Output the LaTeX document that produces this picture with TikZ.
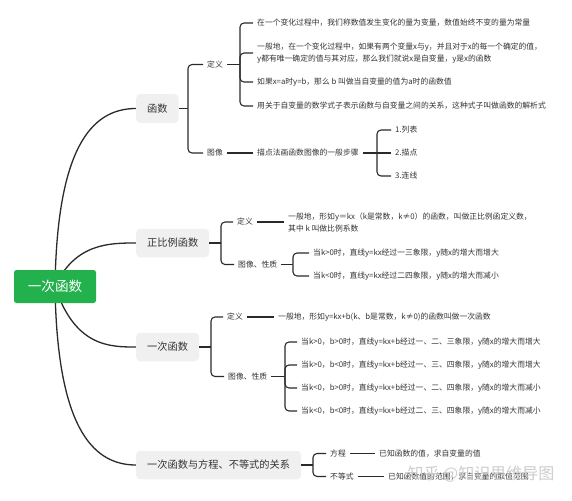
\documentclass[tikz,border=0pt]{standalone}
\usepackage{fontspec}
\setmainfont{Noto Sans CJK SC}
\usetikzlibrary{backgrounds}
\definecolor{mmgreen}{HTML}{22B14C}
\definecolor{mmtext}{HTML}{333333}
\definecolor{mmline}{HTML}{2A2A2A}
\colorlet{topicfill}{black!6}
\tikzset{
  rootbox/.style={fill=mmgreen, text=white, rounded corners=2.5pt, minimum width=82pt, minimum height=33pt, font=\fontsize{13.6}{16}\selectfont},
  topicbox/.style={fill=topicfill, text=mmtext, rounded corners=4pt, anchor=west, minimum height=28.5pt, inner xsep=11pt, font=\fontsize{10.2}{12}\selectfont},
  subtag/.style={anchor=west, text=mmtext, inner xsep=4pt, inner ysep=1pt, font=\fontsize{7.8}{12}\selectfont},
  leaf/.style={anchor=west, text=mmtext, inner xsep=4pt, inner ysep=1pt, align=left, font=\fontsize{7.8}{12}\selectfont},
  branchline/.style={line width=1.3pt, mmline},
  linkline/.style={line width=1.1pt, mmline},
  bracketline/.style={line width=1.1pt, mmline, rounded corners=4pt},
}
\begin{document}
\begin{tikzpicture}[x=1pt,y=-1pt]
\useasboundingbox (0,0) rectangle (572,500);
% root and main topics
\node[rootbox] (root) at (55,286.5) {一次函数};
\node[topicbox] (fn) at (136,108.5) {函数};
\node[topicbox] (zb) at (136,243) {正比例函数};
\node[topicbox] (yc) at (136,347) {一次函数};
\node[topicbox] (gx) at (136,465) {一次函数与方程、不等式的关系};
\begin{pgfonlayer}{background}
\draw[branchline] (root.center) .. controls +(2,-136) and +(-46,0) .. (fn.west);
\draw[branchline] (root.center) .. controls +(20,-43.5) and +(-26,0) .. (zb.west);
\draw[branchline] (root.center) .. controls +(20,60.5) and +(-26,0) .. (yc.west);
\draw[branchline] (root.center) .. controls +(2,136) and +(-46,0) .. (gx.west);
\end{pgfonlayer}

% 函数
\coordinate (fn-b) at (188,108.5);
\node[subtag] (fn-dy) at (203,64.5) {定义};
\node[subtag] (fn-tx) at (203,153) {图像};
\draw[linkline] (fn.east) -- (fn-b);
\draw[bracketline] (fn-b) |- (fn-dy.west);
\draw[bracketline] (fn-b) |- (fn-tx.west);
\coordinate (dy-b) at (240,64.5);
\node[leaf] (t1) at (253,23) {在一个变化过程中，我们称数值发生变化的量为变量，数值始终不变的量为常量};
\node[leaf] (t2) at (253,53) {一般地，在一个变化过程中，如果有两个变量x与y，并且对于x的每一个确定的值，\\y都有唯一确定的值与其对应，那么我们就说x是自变量，y是x的函数};
\node[leaf] (t3) at (253,82) {如果x=a时y=b，那么 b 叫做当自变量的值为a时的函数值};
\node[leaf] (t4) at (253,106) {用关于自变量的数学式子表示函数与自变量之间的关系，这种式子叫做函数的解析式};
\draw[linkline] (fn-dy.east) -- (dy-b);
\foreach \t in {t1,t2,t3,t4}
  \draw[bracketline] (dy-b) |- (\t.west);
\node[leaf] (bz) at (253,153) {描点法画函数图像的一般步骤};
\draw[linkline] (fn-tx.east) -- (bz.west);
\coordinate (bz-b) at (377,153);
\node[leaf] (s1) at (391,130) {1.列表};
\node[leaf] (s2) at (391,153) {2.描点};
\node[leaf] (s3) at (391,176) {3.连线};
\draw[linkline] (bz.east) -- (bz-b);
\draw[bracketline] (bz-b) |- (s1.west);
\draw[linkline] (bz-b) -- (s2.west);
\draw[bracketline] (bz-b) |- (s3.west);

% 正比例函数
\coordinate (zb-b) at (221,243);
\node[subtag] (zb-dy) at (233,222) {定义};
\node[subtag] (zb-tx) at (234,264.5) {图像、性质};
\draw[linkline] (zb.east) -- (zb-b);
\draw[bracketline] (zb-b) |- (zb-dy.west);
\draw[bracketline] (zb-b) |- (zb-tx.west);
\node[leaf] (zb-def) at (284,222) {一般地，形如y＝kx（k是常数，k≠0）的函数，叫做正比例函定义数，\\其中 k 叫做比例系数};
\draw[linkline] (zb-dy.east) -- (zb-def.west);
\coordinate (zb-tb) at (293,264.5);
\node[leaf] (zb-p1) at (309,253) {当k>0时，直线y=kx经过一三象限，y随x的增大而增大};
\node[leaf] (zb-p2) at (309,276) {当k<0时，直线y=kx经过二四象限，y随x的增大而减小};
\draw[linkline] (zb-tx.east) -- (zb-tb);
\draw[bracketline] (zb-tb) |- (zb-p1.west);
\draw[bracketline] (zb-tb) |- (zb-p2.west);

% 一次函数
\coordinate (yc-b) at (211,347);
\node[subtag] (yc-dy) at (223,317) {定义};
\node[subtag] (yc-tx) at (224,376.5) {图像、性质};
\draw[linkline] (yc.east) -- (yc-b);
\draw[bracketline] (yc-b) |- (yc-dy.west);
\draw[bracketline] (yc-b) |- (yc-tx.west);
\node[leaf] (yc-def) at (274,317) {一般地，形如y=kx+b(k、b是常数，k≠0)的函数叫做一次函数};
\draw[linkline] (yc-dy.east) -- (yc-def.west);
\coordinate (yc-tb) at (285,376.5);
\node[leaf] (yc-p1) at (297,342) {当k>0，b>0时，直线y=kx+b经过一、二、三象限，y随x的增大而增大};
\node[leaf] (yc-p2) at (297,365) {当k>0，b<0时，直线y=kx+b经过一、三、四象限，y随x的增大而增大};
\node[leaf] (yc-p3) at (297,388) {当k<0，b>0时，直线y=kx+b经过一、二、四象限，y随x的增大而减小};
\node[leaf] (yc-p4) at (297,411) {当k<0，b<0时，直线y=kx+b经过二、三、四象限，y随x的增大而减小};
\draw[linkline] (yc-tx.east) -- (yc-tb);
\foreach \p in {yc-p1,yc-p2,yc-p3,yc-p4}
  \draw[bracketline] (yc-tb) |- (\p.west);

% 方程与不等式
\coordinate (gx-b) at (313,465);
\node[subtag] (gx-fc) at (326,453.5) {方程};
\node[subtag] (gx-bd) at (326,476.5) {不等式};
\draw[linkline] (gx.east) -- (gx-b);
\draw[bracketline] (gx-b) |- (gx-fc.west);
\draw[bracketline] (gx-b) |- (gx-bd.west);
\node[leaf] (gx-fc-t) at (375,453.5) {已知函数的值，求自变量的值};
\node[leaf] (gx-bd-t) at (384,476.5) {已知函数值的范围，求自变量的取值范围};
\draw[linkline] (gx-fc.east) -- (gx-fc-t.west);
\draw[linkline] (gx-bd.east) -- (gx-bd-t.west);
\node[text=black!20, font=\fontsize{16}{16}\selectfont] (wm) at (481,474) {知乎 @知识思维导图};
\end{tikzpicture}
\end{document}
